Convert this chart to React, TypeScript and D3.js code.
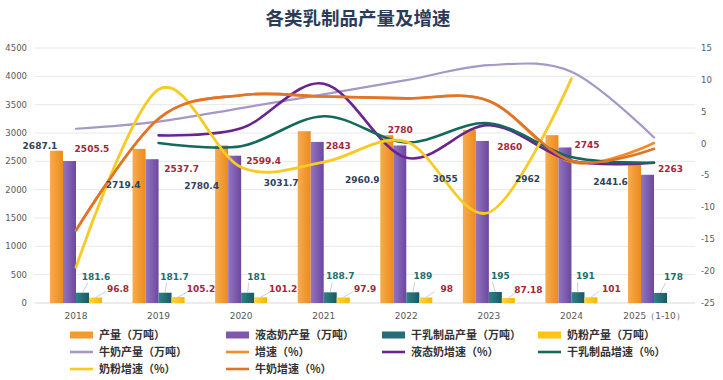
import React from 'react';
import * as d3 from 'd3';

// ---- data ----
const years = ['2018', '2019', '2020', '2021', '2022', '2023', '2024', '2025（1-10）'];
const totalProd = [2687.1, 2719.4, 2780.4, 3031.7, 2960.9, 3055, 2962, 2441.6];
const liquidProd = [2505.5, 2537.7, 2599.4, 2843, 2780, 2860, 2745, 2263];
const dryProd = [181.6, 181.7, 181, 188.7, 189, 195, 191, 178];
const powderProd: (number | null)[] = [96.8, 105.2, 101.2, 97.9, 98, 87.18, 101, null];
const powderLabels = ['96.8', '105.2', '101.2', '97.9', '98', '87.18', '101', ''];

const milkProd = [3074.6, 3201.2, 3440.1, 3682.7, 3931.6, 4196.7, 4079, 2920];
const growthTotal: (number | null)[] = [-13.6, 3.9, 7.6, 7.4, 7.1, 6.7, -2.9, 0.1];
const growthLiquid: (number | null)[] = [null, 1.3, 2.4, 9.4, -2.2, 2.9, -2.7, -3.0];
const growthDry: (number | null)[] = [null, 0.1, -0.4, 4.3, 0.2, 3.2, -2.1, -3.0];
const growthPowder: (number | null)[] = [-19.4, 8.5, -3.7, -2.9, 0.3, -10.8, 10.2, null];
const growthMilk: (number | null)[] = [-13.6, 3.9, 7.6, 7.4, 7.1, 6.7, -2.7, -0.8];

const leftTicks = [0, 500, 1000, 1500, 2000, 2500, 3000, 3500, 4000, 4500];
const rightTicks = [-25, -20, -15, -10, -5, 0, 5, 10, 15];

// ---- label layout offsets (pixels, relative to group centre / bar top) ----
const prodLabelDx = [-36, -35.5, -39.5, -42.5, -44, -43.5, -44, -43.5];
const prodLabelDy = [-5, 36, 40, 52, 45, 49, 44, 17.5];
const liqLabelDx = [16, 23, 22.5, 14.5, -6, 21, 15.5, 16.5];
const liqLabelDy = [-12, 10, 5, 4, -15.5, 6, -3, -6];
const dryLabelDx = [20, 16, 15.5, 16.5, 16.5, 11.5, 14, 19.5];
const powLabelDx = [42, 42.5, 42, 41.5, 40.5, 39.5, 40, 0];

const W = 723;
const H = 380;

const C = {
  orange: '#F39A2F',
  purple: '#7E58B0',
  teal: '#236F75',
  yellow: '#FFC417',
  milkLine: '#A598C9',
  growth: '#F28C26',
  liqLine: '#6B2390',
  dryLine: '#13695B',
  powLine: '#F7CA24',
  milkGrowth: '#E0742A',
};

const barSeries = [
  { key: 'total', name: '产量（万吨）', values: totalProd as (number | null)[], color: C.orange, g: ['#F8AC4E', '#EC8A1E'] },
  { key: 'liquid', name: '液态奶产量（万吨）', values: liquidProd as (number | null)[], color: C.purple, g: ['#9375C2', '#6C479F'] },
  { key: 'dry', name: '干乳制品产量（万吨）', values: dryProd as (number | null)[], color: C.teal, g: ['#2E8389', '#1A5A60'] },
  { key: 'powder', name: '奶粉产量（万吨）', values: powderProd, color: C.yellow, g: ['#FFD445', '#F6B800'] },
];

const lineSeries = [
  { name: '牛奶产量（万吨）', values: milkProd as (number | null)[], color: C.milkLine, axis: 'L', w: 2.2 },
  { name: '增速（%）', values: growthTotal, color: C.growth, axis: 'R', w: 2.6 },
  { name: '液态奶增速（%）', values: growthLiquid, color: C.liqLine, axis: 'R', w: 2.6 },
  { name: '干乳制品增速（%）', values: growthDry, color: C.dryLine, axis: 'R', w: 2.6 },
  { name: '奶粉增速（%）', values: growthPowder, color: C.powLine, axis: 'R', w: 2.8 },
  { name: '牛奶增速（%）', values: growthMilk, color: C.milkGrowth, axis: 'R', w: 2.6 },
];

export default function App() {
  const plotL = 34.7;
  const plotR = 695.3;
  const plotT = 48;
  const plotB = 303;

  const x = d3.scaleBand<string>().domain(years).range([plotL, plotR]).padding(0);
  const bw = x.bandwidth();
  const cx = (i: number) => (x(years[i]) as number) + bw / 2;
  const inner = d3
    .scaleBand<string>()
    .domain(barSeries.map((s) => s.key))
    .range([-bw * 0.315, bw * 0.315])
    .padding(0);
  const yL = d3.scaleLinear().domain([0, 4500]).range([plotB, plotT]);
  const yR = d3.scaleLinear().domain([-25, 15]).range([plotB, plotT]);

  const numFont = '"DejaVu Sans", Verdana, sans-serif';
  const cjk = '"Noto Sans CJK SC", "Noto Sans", sans-serif';

  const linePaths = lineSeries.map((s) => {
    const sc = s.axis === 'L' ? yL : yR;
    const pts = s.values
      .map((v, i) => (v == null ? null : ([cx(i), sc(v)] as [number, number])))
      .filter((p): p is [number, number] => p != null);
    const gen = d3.line<[number, number]>().curve(d3.curveCardinal.tension(0));
    return { ...s, d: gen(pts) || '' };
  });

  const legendItems = [
    ...barSeries.map((s) => ({ name: s.name, color: s.color, type: 'bar' })),
    ...lineSeries.map((s) => ({ name: s.name, color: s.color, type: 'line' })),
  ];
  const legendColX = [70, 226, 382, 538];
  const legendRowY = [335, 352, 369];

  return (
    <svg
      width={W}
      height={H}
      viewBox={`0 0 ${W} ${H}`}
      style={{ position: 'fixed', left: 0, top: 0, background: '#fff' }}
    >
      <defs>
        {barSeries.map((s) => (
          <linearGradient key={s.key} id={`g-${s.key}`} x1="0" x2="1" y1="0" y2="0">
            <stop offset="0%" stopColor={s.g[0]} />
            <stop offset="100%" stopColor={s.g[1]} />
          </linearGradient>
        ))}
      </defs>
      <rect x={0} y={0} width={W} height={H} fill="#fff" />

      {/* title */}
      <text
        x={358}
        y={25}
        textAnchor="middle"
        fontFamily={cjk}
        fontWeight={700}
        fontSize={18.5}
        fill="#2C3B57"
      >
        各类乳制品产量及增速
      </text>

      {/* grid */}
      {leftTicks.map((t) => (
        <line
          key={t}
          x1={plotL}
          x2={plotR}
          y1={yL(t)}
          y2={yL(t)}
          stroke={t === 0 ? '#D9D9D9' : '#E8E8E8'}
          strokeWidth={1}
        />
      ))}

      {/* left axis labels */}
      {leftTicks.map((t) => (
        <text
          key={t}
          x={27}
          y={yL(t)}
          dy="0.35em"
          textAnchor="end"
          fontFamily={numFont}
          fontSize={8.5}
          fill="#595959"
        >
          {t}
        </text>
      ))}
      {/* right axis labels */}
      {rightTicks.map((t) => (
        <text
          key={t}
          x={701}
          y={yR(t)}
          dy="0.35em"
          textAnchor="start"
          fontFamily={numFont}
          fontSize={8.5}
          fill="#595959"
        >
          {t}
        </text>
      ))}
      {/* x labels */}
      {years.map((y, i) => (
        <text
          key={y}
          x={cx(i)}
          y={316}
          dy="0.35em"
          textAnchor="middle"
          fontFamily={numFont}
          fontSize={9}
          fill="#595959"
        >
          {y}
        </text>
      ))}

      {/* bars */}
      {barSeries.map((s) =>
        s.values.map((v, i) =>
          v == null ? null : (
            <rect
              key={`${s.key}-${i}`}
              x={cx(i) + (inner(s.key) as number)}
              y={yL(v)}
              width={inner.bandwidth()}
              height={yL(0) - yL(v)}
              fill={`url(#g-${s.key})`}
            />
          )
        )
      )}

      {/* leader lines for small bars */}
      {dryProd.map((v, i) => {
        const bx = cx(i) + (inner('dry') as number) + inner.bandwidth() / 2;
        const ly = yL(v) - 16;
        return (
          <line
            key={`ld-${i}`}
            x1={bx}
            y1={yL(v)}
            x2={cx(i) + dryLabelDx[i] - 8}
            y2={ly + 6}
            stroke="#BAC4D2"
            strokeWidth={0.8}
          />
        );
      })}
      {powderProd.map((v, i) => {
        if (v == null) return null;
        const bx = cx(i) + (inner('powder') as number) + inner.bandwidth() / 2;
        return (
          <line
            key={`lp-${i}`}
            x1={bx}
            y1={yL(v)}
            x2={cx(i) + powLabelDx[i] - 12}
            y2={yL(v) - 6}
            stroke="#BAC4D2"
            strokeWidth={0.8}
          />
        );
      })}

      {/* lines */}
      {linePaths.map((s) => (
        <path
          key={s.name}
          d={s.d}
          fill="none"
          stroke={s.color}
          strokeWidth={s.w}
          strokeLinecap="round"
          strokeLinejoin="round"
        />
      ))}

      {/* data labels */}
      {totalProd.map((v, i) => (
        <text
          key={`tp-${i}`}
          x={cx(i) + prodLabelDx[i]}
          y={yL(v) + prodLabelDy[i]}
          dy="0.35em"
          textAnchor="middle"
          fontFamily={numFont}
          fontWeight={700}
          fontSize={9}
          fill="#2F4260"
        >
          {v}
        </text>
      ))}
      {liquidProd.map((v, i) => (
        <text
          key={`lq-${i}`}
          x={cx(i) + liqLabelDx[i]}
          y={yL(v) + liqLabelDy[i]}
          dy="0.35em"
          textAnchor="middle"
          fontFamily={numFont}
          fontWeight={700}
          fontSize={9}
          fill="#A3283A"
        >
          {v}
        </text>
      ))}
      {dryProd.map((v, i) => (
        <text
          key={`dr-${i}`}
          x={cx(i) + dryLabelDx[i]}
          y={yL(v) - 16}
          dy="0.35em"
          textAnchor="middle"
          fontFamily={numFont}
          fontWeight={700}
          fontSize={9}
          fill="#1D6E6C"
        >
          {v}
        </text>
      ))}
      {powderProd.map((v, i) =>
        v == null ? null : (
          <text
            key={`pw-${i}`}
            x={cx(i) + powLabelDx[i]}
            y={yL(v) - 8.5}
            dy="0.35em"
            textAnchor="middle"
            fontFamily={numFont}
            fontWeight={700}
            fontSize={9}
            fill="#A3283A"
          >
            {powderLabels[i]}
          </text>
        )
      )}

      {/* legend */}
      {legendItems.map((it, k) => {
        const col = k % 4;
        const row = Math.floor(k / 4);
        const lx = legendColX[col];
        const ly = legendRowY[row];
        return (
          <g key={it.name}>
            {it.type === 'bar' ? (
              <rect x={lx} y={ly - 3.5} width={23} height={7} fill={it.color} />
            ) : (
              <line x1={lx} x2={lx + 23} y1={ly} y2={ly} stroke={it.color} strokeWidth={2.6} />
            )}
            <text
              x={lx + 29}
              y={ly}
              dy="0.36em"
              fontFamily={cjk}
              fontWeight={700}
              fontSize={11}
              fill="#333"
            >
              {it.name}
            </text>
          </g>
        );
      })}
    </svg>
  );
}
